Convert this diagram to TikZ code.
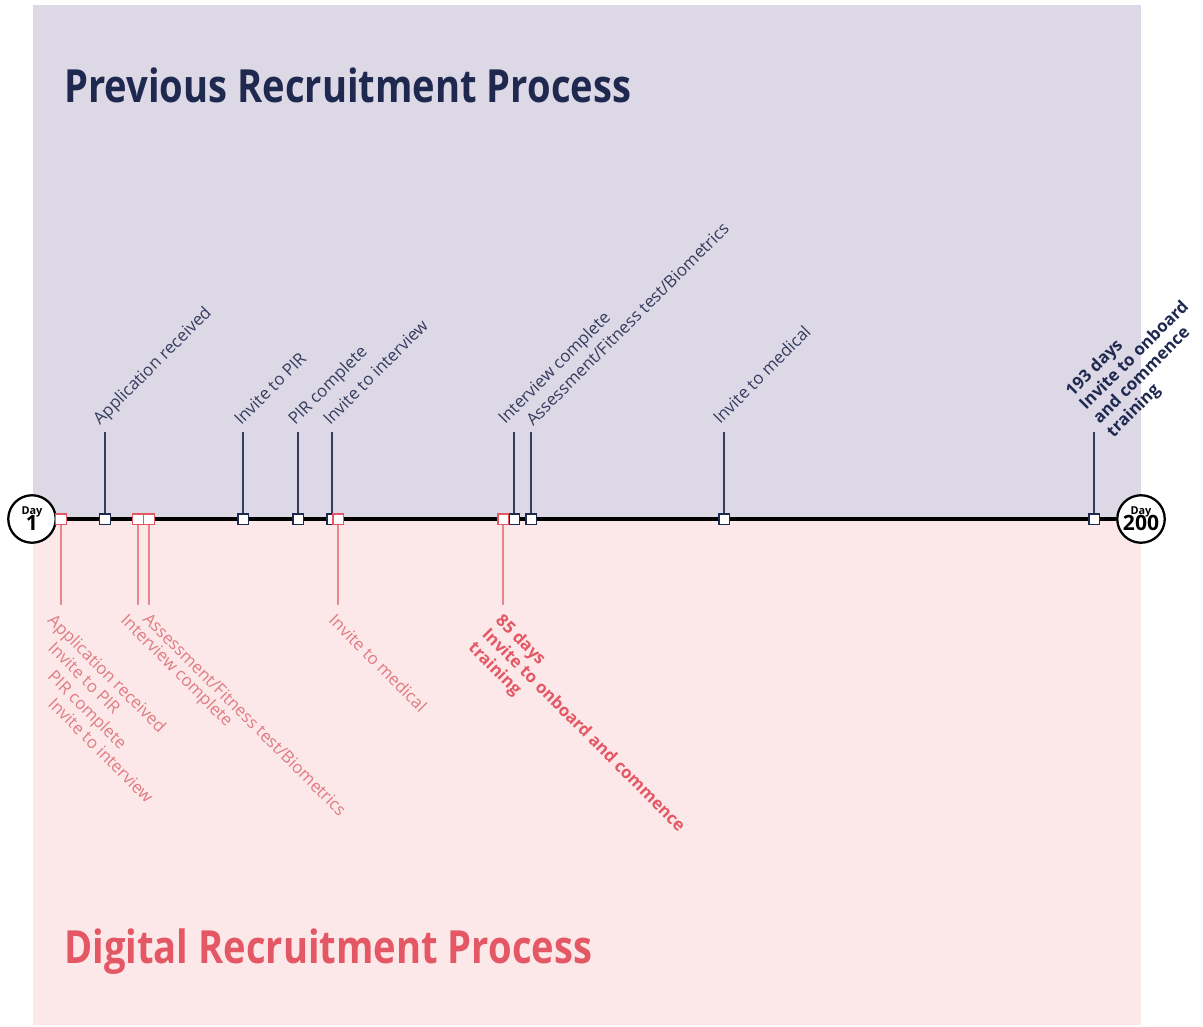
\documentclass[tikz,border=0pt]{standalone}
\usepackage{fontspec}
\setmainfont{Open Sans}
\usepackage{graphicx}
\usetikzlibrary{positioning,calc}

\definecolor{prevbg}{HTML}{DDD8E6}
\definecolor{digibg}{HTML}{FCE8E8}
\definecolor{navy}{HTML}{1F294F}
\definecolor{navyline}{HTML}{353C5E}
\definecolor{digired}{HTML}{E45865}
\definecolor{digilabel}{HTML}{E07B82}
\definecolor{digiline}{HTML}{E8868C}

\tikzset{
  prevsq/.style={draw=navy, fill=white, line width=0.85pt, minimum size=0.21cm, inner sep=0},
  digisq/.style={draw=digired, fill=white, line width=0.85pt, minimum size=0.21cm, inner sep=0},
  prevtick/.style={draw=navyline, line width=0.7pt},
  digitick/.style={draw=digiline, line width=0.7pt},
  prevlab/.style={rotate=45, anchor=base west, inner sep=0, text=navyline, font=\fontsize{9.6}{11}\selectfont},
  digilab/.style={rotate=-45, anchor=north west, inner sep=0, text=digilabel, font=\fontsize{9.6}{11}\selectfont},
  daycirc/.style={circle, draw=black, fill=white, line width=1.3pt, minimum size=0.95cm, inner sep=0, align=center},
  title/.style={anchor=base west, inner sep=0, font=\fontsize{26}{30}\selectfont\bfseries}
}

\begin{document}
\begin{tikzpicture}[x=0.02cm, y=-0.02cm]
\useasboundingbox (0,0) rectangle (1203,1027);
% the two halves
\fill[prevbg] (33,5) rectangle (1141,519);
\fill[digibg] (33,519) rectangle (1141,1025);

\node[title, text=navy] (prevtitle) at (64,103) {\scalebox{0.835}[1]{Previous Recruitment Process}};
\node[title, text=digired] (digititle) at (64,963) {\scalebox{0.835}[1]{Digital Recruitment Process}};

% start and end of the timeline
\node[daycirc] (d1) at (32,519) {{\fontsize{6.2}{6}\selectfont\bfseries Day}\\[-3pt]{\fontsize{12}{12}\selectfont\bfseries 1}};
\node[daycirc] (d200) at (1141,519) {{\fontsize{6.2}{6}\selectfont\bfseries Day}\\[-3pt]{\fontsize{12}{12}\selectfont\bfseries 200}};
\draw[line width=2.3pt] (d1) -- (d200);

% previous process, above the line
\foreach \x/\lx/\ly/\txt [count=\n] in {
    105/100/426/{Application received},
    243/241/426/{Invite to PIR},
    298/295/426/{PIR complete},
    332/330/426/{Invite to interview},
    514/505/425/{Interview complete},
    531/533/427/{Assessment/Fitness test/Biometrics},
    724/720/425/{Invite to medical}}{
  \node[prevsq] (p\n) at (\x,519) {};
  \coordinate (p\n top) at (\x,432);
  \draw[prevtick] (p\n) -- (p\n top);
  \node[prevlab] (p\n lab) at (\lx,\ly) {\txt};
}
\node[prevsq] (p8) at (1094,519) {};
\coordinate (p8top) at (1094,432);
\draw[prevtick] (p8) -- (p8top);
\node[prevlab, anchor=north west, align=left, text=navy, font=\fontsize{9.6}{11}\selectfont\bfseries] (p8lab) at (1063,388)
  {193 days\\Invite to onboard\\and commence\\training};

% digital process, below the line
\foreach \x [count=\n] in {61,138,149,338,503}{
  \node[digisq] (q\n) at (\x,519) {};
  \coordinate (q\n bot) at (\x,605);
  \draw[digitick] (q\n) -- (q\n bot);
}
\foreach \ly/\txt [count=\n] in {612/{Application received}, 640/{Invite to PIR}, 668/{PIR complete}, 696/{Invite to interview}}
  \node[digilab] (q1lab\n) at (56,\ly) {\txt};
\node[digilab] (q2lab) at (129,612) {Interview complete};
\node[digilab] (q3lab) at (151,611) {Assessment/Fitness test/Biometrics};
\node[digilab] (q4lab) at (337,612) {Invite to medical};
\node[digilab, align=left, text=digired, font=\fontsize{9.6}{11}\selectfont\bfseries] (q5lab) at (504,612)
  {85 days\\Invite to onboard and commence\\training};
\end{tikzpicture}
\end{document}
